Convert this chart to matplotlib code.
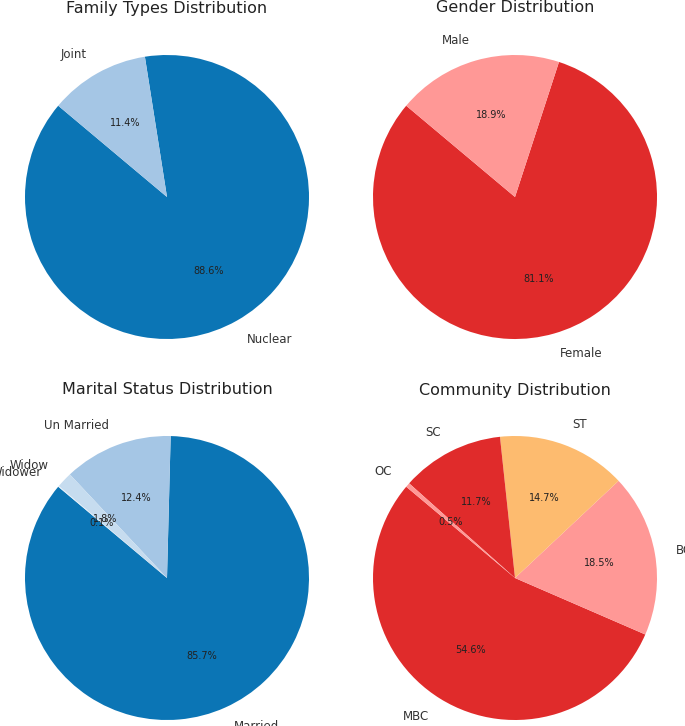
import matplotlib
matplotlib.use("Agg")
import matplotlib.pyplot as plt

family_labels = ["Nuclear", "Joint"]
family_values = [88.6, 11.4]
gender_labels = ["Female", "Male"]
gender_values = [81.1, 18.9]
marital_labels = ["Married", "Un Married", "Widow", "Widower"]
marital_values = [85.7, 12.4, 1.8, 0.1]
community_labels = ["MBC", "BC", "ST", "SC", "OC"]
community_values = [54.6, 18.5, 14.7, 11.7, 0.5]

BLUE, LBLUE, LLBLUE = "#0b75b5", "#a5c6e5", "#c6dcef"
RED, PINK, ORANGE = "#e02b2b", "#ff9896", "#fdbb6f"

specs = [
    ("Family Types Distribution", family_labels, family_values, [BLUE, LBLUE], (167, 197), 8),
    ("Gender Distribution", gender_labels, gender_values, [RED, PINK], (515, 197), 8),
    ("Marital Status Distribution", marital_labels, marital_values, [BLUE, LBLUE, LLBLUE, "#deebf7"], (167, 578), 390),
    ("Community Distribution", community_labels, community_values, [RED, PINK, ORANGE, RED, PINK], (515, 578), 390),
]

W, H = 685, 726
R = 142
L = 1.25
fig = plt.figure(figsize=(W / 100, H / 100), dpi=100)
for title, labels, vals, cols, (cx, cy), ty in specs:
    half = R * L
    ax = fig.add_axes([(cx - half) / W, 1 - (cy + half) / H, 2 * half / W, 2 * half / H])
    w, t, at = ax.pie(vals, labels=labels, colors=cols, autopct="%1.1f%%", startangle=140,
                      labeldistance=1.15, textprops={"fontsize": 8.5, "color": "#333333"})
    for a in at:
        a.set_fontsize(7)
        a.set_color("#222222")
    ax.set_xlim(-L, L)
    ax.set_ylim(-L, L)
    ax.set_aspect("equal")
    ax.axis("off")
    for txt in t:
        txt.set_clip_on(False)
    fig.text(cx / W, 1 - ty / H, title, ha="center", va="center", fontsize=11.5, color="#222222")
fig.savefig("out.png", dpi=100)
